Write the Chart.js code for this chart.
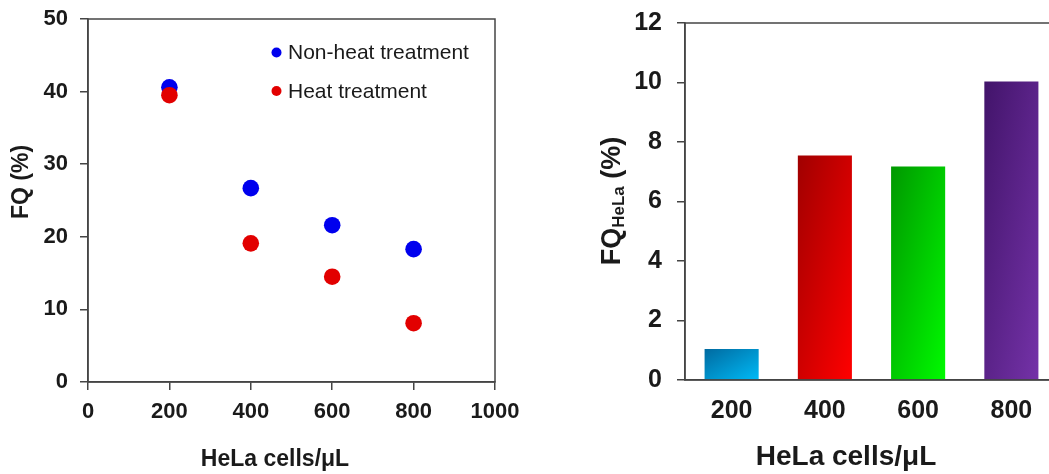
<!DOCTYPE html>
<html>
<head>
<meta charset="utf-8">
<script src="https://cdn.jsdelivr.net/npm/chart.js@4.4.1/dist/chart.umd.min.js"></script>
<style>
  html, body { margin: 0; padding: 0; background: #fff; overflow: hidden; }
  body { width: 1049px; height: 474px; position: relative; }
  .box { position: absolute; top: 0; }
  #left { left: 0; }
  #right { left: 560px; }
</style>
</head>
<body>
<div class="box" id="left"><canvas id="scatterChart" width="520" height="474"></canvas></div>
<div class="box" id="right"><canvas id="barChart" width="520" height="474"></canvas></div>
<script>
// values
const cellCounts = [200, 400, 600, 800];
const fqNonHeat = [40.6, 26.7, 21.6, 18.3];
const fqHeat = [39.5, 19.1, 14.5, 8.1];

const barLabels = ['200', '400', '600', '800'];
const fqHeLa = [1.04, 7.55, 7.18, 10.03];
const barDark = ['#006aa0', '#a00000', '#009800', '#42146a'];
const barLight = ['#00baf6', '#ff0000', '#00fa00', '#7432a8'];

const FONT = "'Liberation Sans', Arial, sans-serif";
const INK = '#1a1a1a';
const AXIS = '#454545';
const BAR_PCT = 0.58;

Chart.defaults.font.family = FONT;
Chart.defaults.color = INK;

// let layout padding alone decide where the plot area sits
function noAutoPad(s) {
    s.paddingTop = 0;
    s.paddingBottom = 0;
    s.paddingLeft = 0;
    s.paddingRight = 0;
}

// box around the plot area
const frame = {
    id: 'frame',
    afterDatasetsDraw(chart) {
        const a = chart.chartArea;
        const ctx = chart.ctx;
        ctx.save();
        ctx.strokeStyle = AXIS;
        ctx.lineWidth = 1.5;
        ctx.strokeRect(a.left, a.top, a.right - a.left, a.bottom - a.top);
        ctx.restore();
    }
};

// axis titles drawn by hand (subscript + exact placement)
function makeTitles(items) {
    return {
        id: 'titles',
        afterDraw(chart) {
            const ctx = chart.ctx;
            items.forEach(item => {
                ctx.save();
                ctx.translate(item.x, item.y);
                ctx.rotate(item.rot || 0);
                ctx.fillStyle = INK;
                ctx.textBaseline = 'middle';
                ctx.textAlign = 'left';
                let total = 0;
                item.parts.forEach(p => {
                    ctx.font = 'bold ' + p.size + 'px ' + FONT;
                    p.w = ctx.measureText(p.text).width;
                    total += p.w;
                });
                let x = -total / 2;
                item.parts.forEach(p => {
                    ctx.font = 'bold ' + p.size + 'px ' + FONT;
                    ctx.fillText(p.text, x, p.dy || 0);
                    x += p.w;
                });
                ctx.restore();
            });
        }
    };
}

const innerLegend = {
    id: 'innerLegend',
    afterDraw(chart) {
        const ctx = chart.ctx;
        ctx.save();
        chart.data.datasets.forEach((ds, i) => {
            const y = 52.5 + i * 38.5;
            ctx.beginPath();
            ctx.arc(276.5, y, 5, 0, Math.PI * 2);
            ctx.fillStyle = ds.backgroundColor;
            ctx.fill();
            ctx.font = '21px ' + FONT;
            ctx.fillStyle = INK;
            ctx.textBaseline = 'middle';
            ctx.fillText(ds.label, 288, y + 1);
        });
        ctx.restore();
    }
};

new Chart(document.getElementById('scatterChart'), {
    type: 'scatter',
    data: {
        datasets: [
            {
                label: 'Non-heat treatment',
                data: cellCounts.map((x, i) => ({ x: x, y: fqNonHeat[i] })),
                backgroundColor: '#0000ee',
                pointRadius: 8.3,
                pointBorderWidth: 0,
                order: 1
            },
            {
                label: 'Heat treatment',
                data: cellCounts.map((x, i) => ({ x: x, y: fqHeat[i] })),
                backgroundColor: '#e20000',
                pointRadius: 8.3,
                pointBorderWidth: 0,
                order: 0
            }
        ]
    },
    options: {
        responsive: false,
        animation: false,
        layout: { padding: { left: 0, top: 19, right: 25, bottom: 0 } },
        plugins: { legend: { display: false }, tooltip: { enabled: false } },
        scales: {
            x: {
                type: 'linear',
                min: 0, max: 1000,
                ticks: { stepSize: 200, padding: 9, font: { size: 22, weight: 'bold' }, color: INK,
                    callback: v => String(v) },
                grid: { drawOnChartArea: false, tickLength: 8, color: AXIS, lineWidth: 1.5 },
                border: { color: AXIS, width: 1.5 },
                afterFit: s => { s.height = 92; noAutoPad(s); }
            },
            y: {
                min: 0, max: 50,
                ticks: { stepSize: 10, padding: 12, font: { size: 22, weight: 'bold' }, color: INK },
                grid: { drawOnChartArea: false, tickLength: 8, color: AXIS, lineWidth: 1.5 },
                border: { color: AXIS, width: 1.5 },
                afterFit: s => { s.width = 88; noAutoPad(s); }
            }
        }
    },
    plugins: [frame, innerLegend, makeTitles([
        { x: 275, y: 460, parts: [{ text: 'HeLa cells/μL', size: 23 }] },
        { x: 22, y: 182, rot: -Math.PI / 2, parts: [{ text: 'FQ (%)', size: 23 }] }
    ])]
});

// gradient that scales with the bar: dark top-left corner to light bottom-right corner
function barFill(c) {
    const chart = c.chart;
    const i = c.dataIndex;
    const xs = chart.scales.x, ys = chart.scales.y;
    if (!chart.chartArea || !xs || !ys || i === undefined) return barDark[0];
    const w = xs.width / barLabels.length * BAR_PCT;
    const x0 = xs.getPixelForValue(i) - w / 2;
    const y0 = ys.getPixelForValue(c.raw);
    const h = Math.max(ys.getPixelForValue(0) - y0, 1);
    const t = 2 / (1 / (w * w) + 1 / (h * h));
    const g = chart.ctx.createLinearGradient(x0, y0, x0 + t / w, y0 + t / h);
    g.addColorStop(0, barDark[i]);
    g.addColorStop(1, barLight[i]);
    return g;
}

new Chart(document.getElementById('barChart'), {
    type: 'bar',
    data: {
        labels: barLabels,
        datasets: [{
            label: 'FQHeLa',
            data: fqHeLa,
            backgroundColor: barFill,
            borderWidth: 0,
            barPercentage: BAR_PCT,
            categoryPercentage: 1
        }]
    },
    options: {
        responsive: false,
        animation: false,
        layout: { padding: { left: 0, top: 23, right: 22, bottom: 0 } },
        plugins: { legend: { display: false }, tooltip: { enabled: false } },
        scales: {
            x: {
                ticks: { padding: 16, font: { size: 25, weight: 'bold' }, color: INK },
                grid: { drawOnChartArea: false, drawTicks: false },
                border: { color: AXIS, width: 1.5 },
                afterFit: s => { s.height = 94; noAutoPad(s); }
            },
            y: {
                min: 0, max: 12,
                ticks: { stepSize: 2, padding: 15, font: { size: 25, weight: 'bold' }, color: INK },
                grid: { drawOnChartArea: false, tickLength: 8, color: AXIS, lineWidth: 1.5 },
                border: { color: AXIS, width: 1.5 },
                afterFit: s => { s.width = 125; noAutoPad(s); }
            }
        }
    },
    plugins: [frame, makeTitles([
        { x: 286, y: 457, parts: [{ text: 'HeLa cells/μL', size: 28 }] },
        { x: 53, y: 201, rot: -Math.PI / 2, parts: [
            { text: 'FQ', size: 27 },
            { text: 'HeLa', size: 17, dy: 6 },
            { text: ' (%)', size: 27 }
        ] }
    ])]
});
</script>
</body>
</html>
